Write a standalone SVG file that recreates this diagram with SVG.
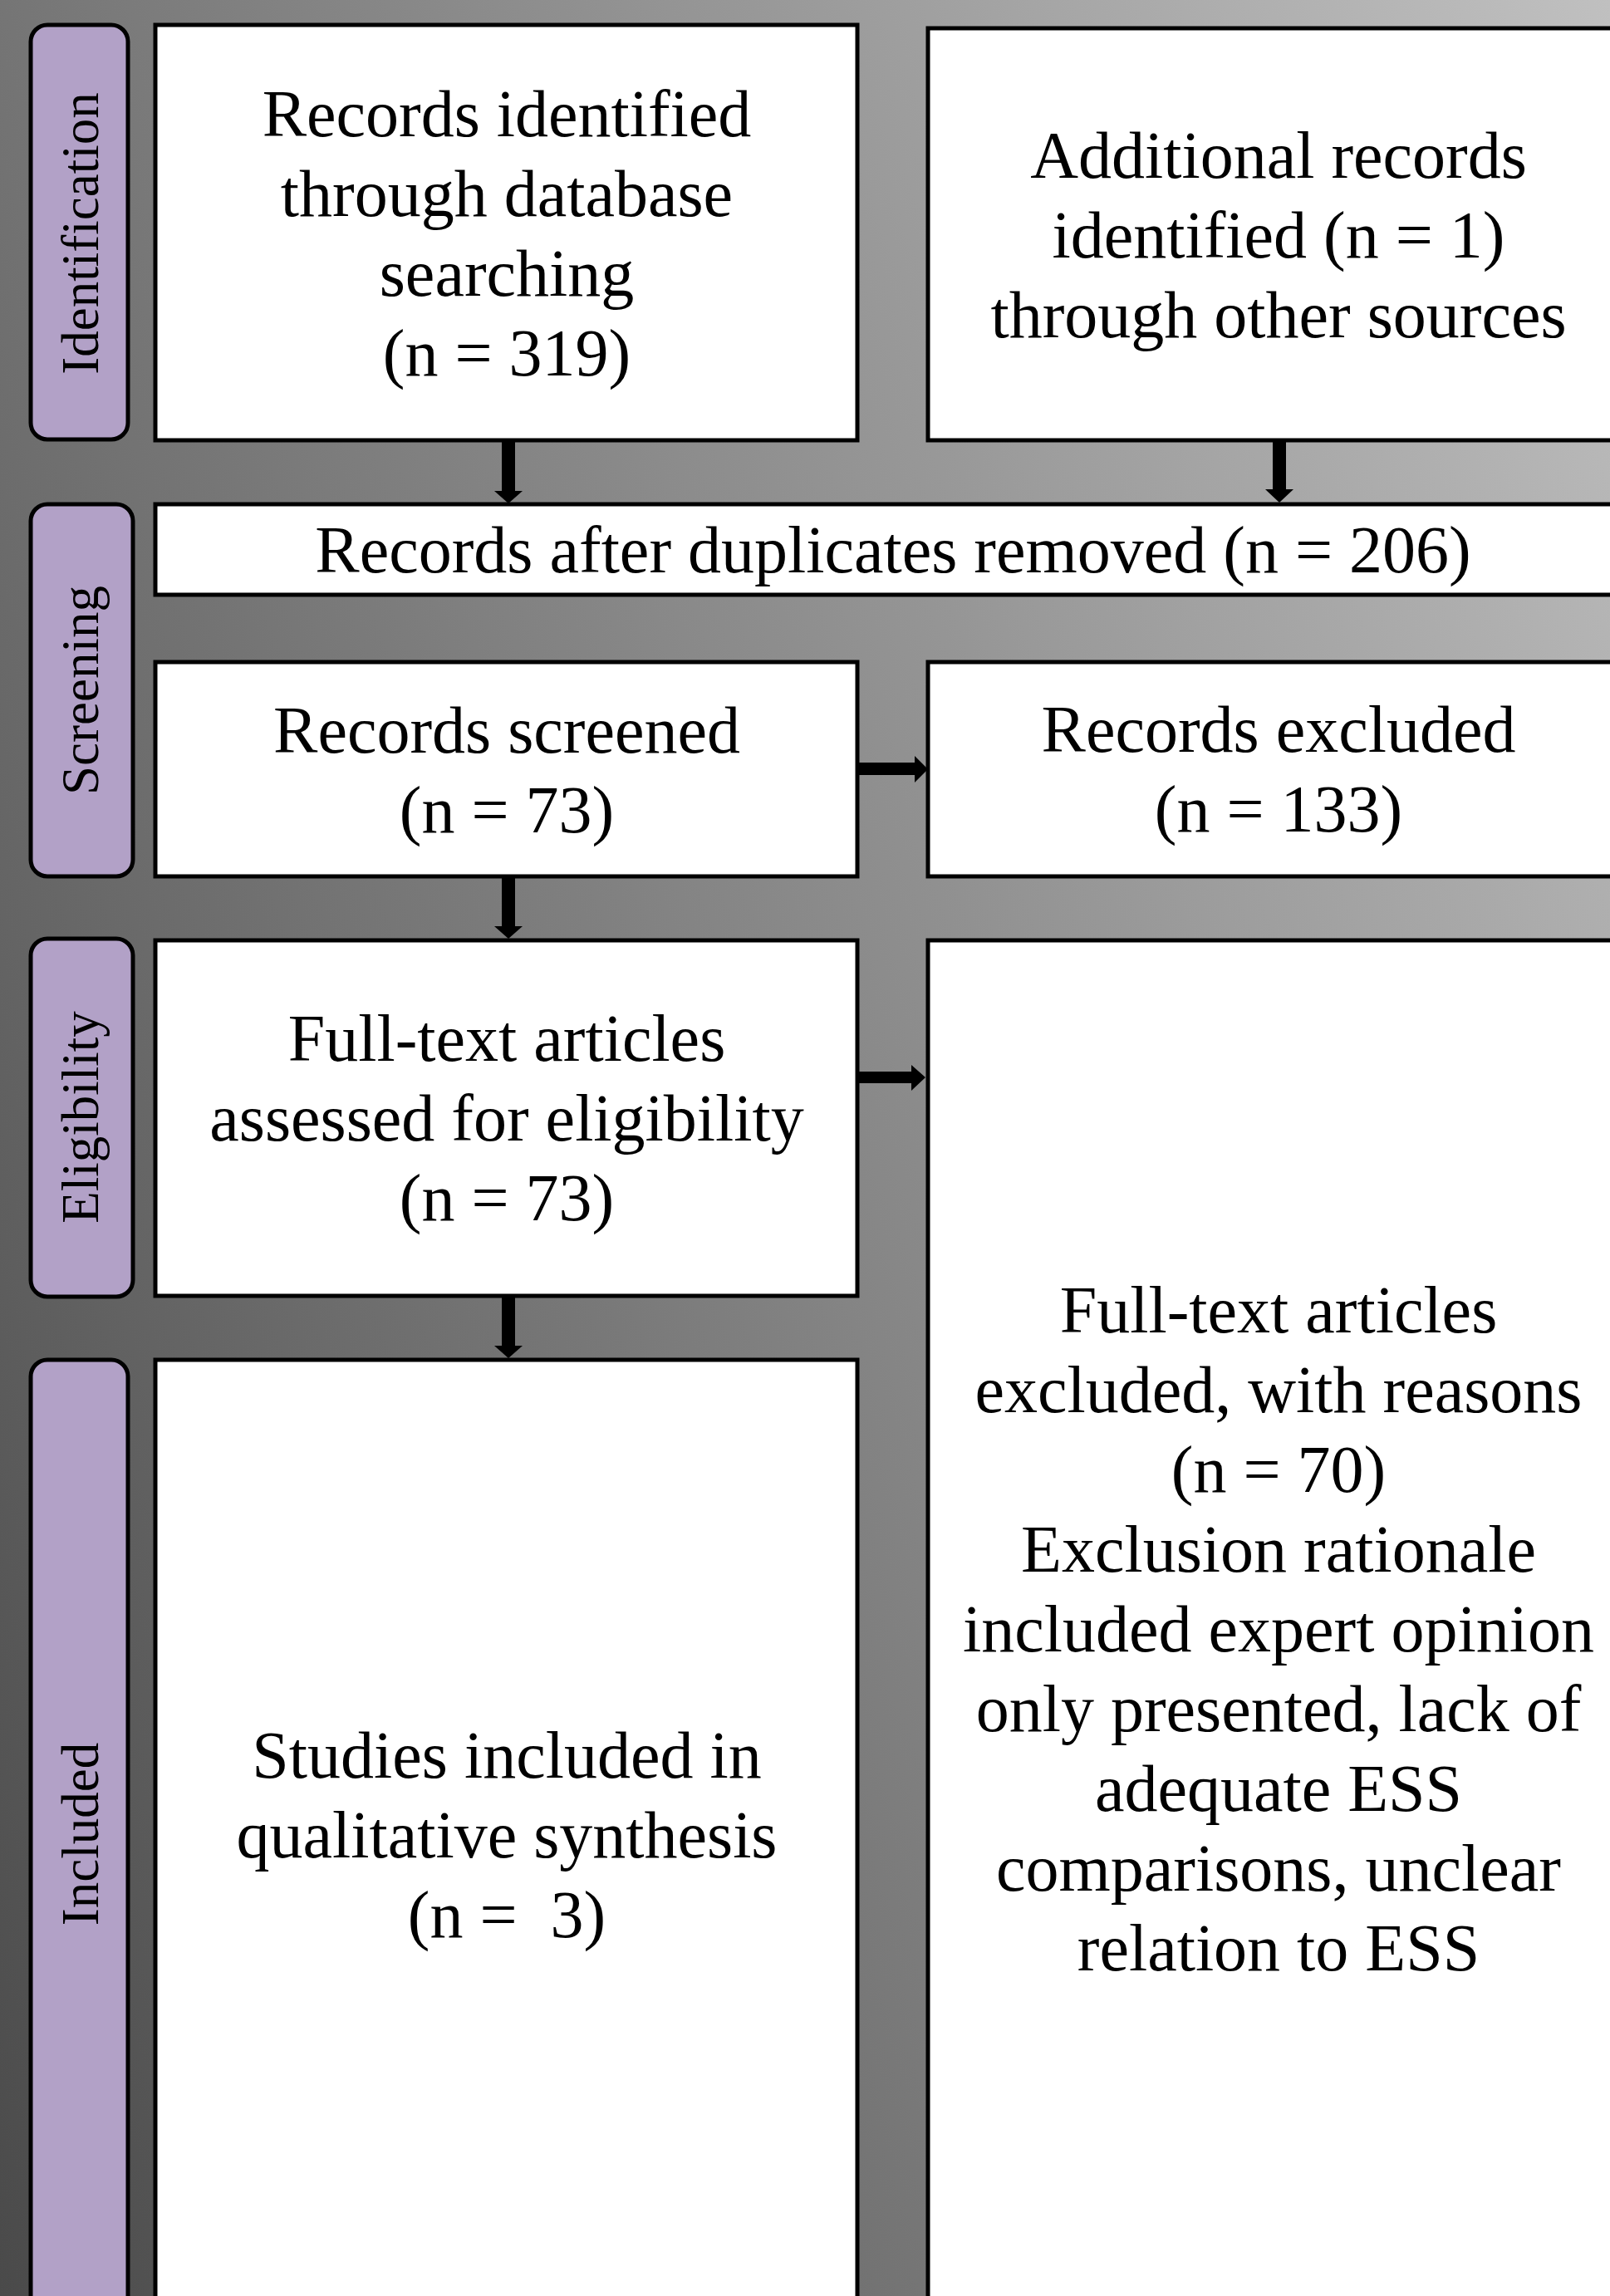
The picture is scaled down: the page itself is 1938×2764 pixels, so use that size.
<svg xmlns="http://www.w3.org/2000/svg" width="1938" height="2764" viewBox="0 0 1938 2764">
  <defs>
    <linearGradient id="bg" gradientUnits="userSpaceOnUse" x1="0" y1="2764" x2="2803" y2="1637">
      <stop offset="0" stop-color="#4a4a4a"/>
      <stop offset="1" stop-color="#c8c8c8"/>
    </linearGradient>
    <style>
      .box { fill: #ffffff; stroke: #000000; stroke-width: 5; }
      .pill { fill: #b2a1c7; stroke: #000000; stroke-width: 5; }
      .txt { font-family: "Liberation Serif", "Times New Roman", serif; font-size: 80px; fill: #000000; text-anchor: middle; }
      .lbl { font-family: "Liberation Serif", "Times New Roman", serif; font-size: 63px; fill: #000000; text-anchor: middle; }
      .arrow { fill: #000000; stroke: none; }
    </style>
  </defs>

  <rect x="0" y="0" width="1938" height="2764" fill="url(#bg)"/>

  <!-- Phase labels -->
  <g id="label-identification">
    <rect class="pill" x="37" y="30" width="117" height="499" rx="20" ry="20"/>
    <text class="lbl" transform="translate(118,281) rotate(-90)">Identification</text>
  </g>
  <g id="label-screening">
    <rect class="pill" x="37" y="607" width="123" height="448" rx="20" ry="20"/>
    <text class="lbl" transform="translate(118,831) rotate(-90)">Screening</text>
  </g>
  <g id="label-eligibility">
    <rect class="pill" x="37" y="1130" width="123" height="431" rx="20" ry="20"/>
    <text class="lbl" transform="translate(118,1345) rotate(-90)">Eligibility</text>
  </g>
  <g id="label-included">
    <rect class="pill" x="37" y="1637" width="117" height="1160" rx="20" ry="20"/>
    <text class="lbl" transform="translate(118,2208) rotate(-90)">Included</text>
  </g>

  <!-- Nodes -->
  <g id="node-database">
    <rect class="box" x="187" y="30" width="845" height="500"/>
    <text class="txt" x="610" y="164">Records identified</text>
    <text class="txt" x="610" y="260">through database</text>
    <text class="txt" x="610" y="356">searching</text>
    <text class="txt" x="610" y="452">(n = 319)</text>
  </g>
  <g id="node-other">
    <rect class="box" x="1117" y="34" width="844" height="496"/>
    <text class="txt" x="1539" y="214">Additional records</text>
    <text class="txt" x="1539" y="310">identified (n = 1)</text>
    <text class="txt" x="1539" y="406">through other sources</text>
  </g>
  <g id="node-duplicates">
    <rect class="box" x="187" y="607" width="1774" height="109"/>
    <text class="txt" x="1075" y="689">Records after duplicates removed (n = 206)</text>
  </g>
  <g id="node-screened">
    <rect class="box" x="187" y="797" width="845" height="258"/>
    <text class="txt" x="610" y="906">Records screened</text>
    <text class="txt" x="610" y="1002">(n = 73)</text>
  </g>
  <g id="node-excluded">
    <rect class="box" x="1117" y="797" width="844" height="258"/>
    <text class="txt" x="1539" y="905">Records excluded</text>
    <text class="txt" x="1539" y="1001">(n = 133)</text>
  </g>
  <g id="node-fulltext">
    <rect class="box" x="187" y="1132" width="845" height="428"/>
    <text class="txt" x="610" y="1277">Full-text articles</text>
    <text class="txt" x="610" y="1373">assessed for eligibility</text>
    <text class="txt" x="610" y="1469">(n = 73)</text>
  </g>
  <g id="node-fulltext-excluded">
    <rect class="box" x="1117" y="1132" width="844" height="1700"/>
    <text class="txt" x="1539" y="1604">Full-text articles</text>
    <text class="txt" x="1539" y="1700">excluded, with reasons</text>
    <text class="txt" x="1539" y="1796">(n = 70)</text>
    <text class="txt" x="1539" y="1892">Exclusion rationale</text>
    <text class="txt" x="1539" y="1988">included expert opinion</text>
    <text class="txt" x="1539" y="2084">only presented, lack of</text>
    <text class="txt" x="1539" y="2180">adequate ESS</text>
    <text class="txt" x="1539" y="2276">comparisons, unclear</text>
    <text class="txt" x="1539" y="2372">relation to ESS</text>
  </g>
  <g id="node-included">
    <rect class="box" x="187" y="1637" width="845" height="1200"/>
    <text class="txt" x="610" y="2140">Studies included in</text>
    <text class="txt" x="610" y="2236">qualitative synthesis</text>
    <text class="txt" x="610" y="2332" xml:space="preserve">(n =  3)</text>
  </g>

  <!-- Connectors -->
  <g id="connectors">
    <polygon class="arrow" points="604,532 620,532 620,591 629,591 612,606 595,591 604,591"/>
    <polygon class="arrow" points="1532,532 1548,532 1548,589 1557,589 1540,605 1523,589 1532,589"/>
    <polygon class="arrow" points="1034,918 1101,918 1101,910 1117,926 1101,942 1101,933 1034,933"/>
    <polygon class="arrow" points="604,1057 620,1057 620,1115 629,1115 612,1130 595,1115 604,1115"/>
    <polygon class="arrow" points="1034,1290 1097,1290 1097,1282 1114,1297 1097,1313 1097,1304 1034,1304"/>
    <polygon class="arrow" points="604,1562 620,1562 620,1620 629,1620 612,1635 595,1620 604,1620"/>
  </g>
</svg>
